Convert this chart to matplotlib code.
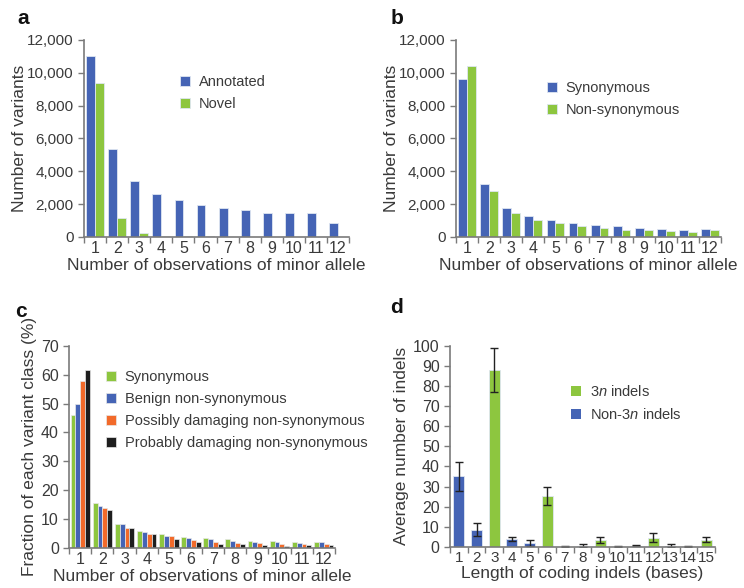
import numpy as np
import matplotlib
matplotlib.use("Agg")
import matplotlib.pyplot as plt

plt.rcParams['font.family'] = ['Liberation Sans', 'DejaVu Sans']
plt.rcParams['mathtext.fontset'] = 'custom'
plt.rcParams['mathtext.it'] = 'Liberation Sans:italic'
plt.rcParams['mathtext.rm'] = 'Liberation Sans'

BLUE = '#4564b5'
GREEN = '#8dc63f'
ORANGE = '#f26a2a'
BLACK = '#1e1e1e'
TXT = '#3a3a3a'
AX = '#7a7a7a'

# panel a
obs = np.arange(1, 13)
annotated = [11050, 5350, 3400, 2600, 2250, 1950, 1750, 1620, 1480, 1480, 1440, 850]
novel = [9400, 1130, 230, 80, 50, 50, 0, 0, 0, 0, 0, 0]

# panel b
synonymous = [9600, 3250, 1750, 1270, 1050, 850, 750, 640, 560, 510, 450, 500]
nonsynonymous = [10400, 2800, 1480, 1050, 850, 640, 560, 450, 410, 350, 300, 420]

# panel c (%)
c_syn = [46, 15.5, 8.2, 6.0, 5.0, 3.8, 3.5, 3.2, 2.6, 2.6, 2.2, 2.2]
c_benign = [50, 14.5, 8.2, 5.7, 4.3, 3.6, 3.2, 2.6, 2.2, 2.2, 1.9, 2.2]
c_possibly = [57.8, 14.0, 6.8, 4.7, 4.0, 2.8, 2.2, 1.8, 1.6, 1.5, 1.5, 1.5]
c_probably = [61.5, 13.2, 6.9, 5.0, 3.2, 2.2, 1.4, 1.4, 1.1, 0.8, 1.1, 1.1]

# panel d
lengths = np.arange(1, 16)
indels = [35, 8.5, 88, 4, 2, 25.5, 0.15, 0.5, 3.5, 0.15, 0.5, 4.5, 0.5, 0.15, 3.5]
err_lo = [7, 3, 11, 1, 1.5, 4.5, 0.15, 0.5, 1.5, 0.15, 0.3, 2, 0.5, 0.15, 1]
err_hi = [7, 3.5, 11, 1, 1.2, 4.5, 0.15, 0.7, 1.5, 0.15, 0.3, 2.5, 0.7, 0.15, 1.5]


def style(ax, n):
    for s in ['top', 'right']:
        ax.spines[s].set_visible(False)
    for s in ['left', 'bottom']:
        ax.spines[s].set_color(AX)
        ax.spines[s].set_linewidth(1.2)
    ax.set_xlim(0.5, n + 0.5)
    ax.set_xticks(np.arange(1, n + 1))
    ax.set_xticks(np.arange(0.5, n + 1), minor=True)
    ax.tick_params(axis='x', which='major', length=0, pad=3, labelsize=11.5, labelcolor=TXT)
    ax.tick_params(axis='x', which='minor', length=4, color=AX, width=1)
    ax.tick_params(axis='y', length=4, color=AX, width=1, labelsize=11.5, labelcolor=TXT)


def legend(ax, loc):
    leg = ax.legend(loc='upper left', bbox_to_anchor=loc, frameon=False, fontsize=10.5,
                    handlelength=0.7, handleheight=0.7, handletextpad=0.6, labelspacing=0.55,
                    borderaxespad=0)
    for t in leg.get_texts():
        t.set_color(TXT)


fig = plt.figure(figsize=(7.44, 5.88), dpi=100)
axa = fig.add_axes([0.113, 0.597, 0.356, 0.335])
axb = fig.add_axes([0.613, 0.597, 0.356, 0.335])
axc = fig.add_axes([0.093, 0.068, 0.357, 0.344])
axd = fig.add_axes([0.605, 0.070, 0.356, 0.342])

w = 0.4
ek = dict(edgecolor='#dfe6f2', linewidth=0.6)
axa.bar(obs - w / 2, annotated, w, color=BLUE, label='Annotated', **ek)
axa.bar(obs + w / 2, novel, w, color=GREEN, label='Novel', **ek)
axb.bar(obs - w / 2, synonymous, w, color=BLUE, label='Synonymous', **ek)
axb.bar(obs + w / 2, nonsynonymous, w, color=GREEN, label='Non-synonymous', **ek)
for ax in (axa, axb):
    style(ax, 12)
    ax.tick_params(axis='y', labelsize=11)
    ax.set_ylim(0, 12000)
    ax.set_yticks(np.arange(0, 12001, 2000))
    ax.set_yticklabels([f'{v:,}' for v in range(0, 12001, 2000)])
    ax.set_ylabel('Number of variants', fontsize=12.5, color=TXT, labelpad=0)
    ax.set_xlabel('Number of observations of minor allele', fontsize=12.5, color=TXT, labelpad=1)
legend(axa, (0.34, 0.85))
legend(axb, (0.32, 0.82))

wc = 0.22
series_c = [(c_syn, GREEN, 'Synonymous'), (c_benign, BLUE, 'Benign non-synonymous'),
            (c_possibly, ORANGE, 'Possibly damaging non-synonymous'),
            (c_probably, BLACK, 'Probably damaging non-synonymous')]
for i, (vals, col, lab) in enumerate(series_c):
    axc.bar(obs + (i - 1.5) * wc, vals, wc, color=col, label=lab, edgecolor='#e8e8e8', linewidth=0.5)
style(axc, 12)
axc.set_ylim(0, 70)
axc.set_yticks(np.arange(0, 71, 10))
axc.set_ylabel('Fraction of each variant class (%)', fontsize=12.5, color=TXT, labelpad=3)
axc.set_xlabel('Number of observations of minor allele', fontsize=12.5, color=TXT, labelpad=1)
legend(axc, (0.115, 0.91))

cols = [GREEN if l % 3 == 0 else BLUE for l in lengths]
axd.bar(lengths, indels, 0.62, color=cols, edgecolor='#dfe6f2', linewidth=0.6,
        yerr=[err_lo, err_hi], error_kw=dict(ecolor='#222222', elinewidth=1, capsize=3, capthick=1))
axd.bar([0], [0], color=GREEN, label='3$\\it{n}$ indels')
axd.bar([0], [0], color=BLUE, label='Non-3$\\it{n}$ indels')
style(axd, 15)
axd.tick_params(axis='x', which='major', labelsize=11)
axd.set_ylim(0, 100)
axd.set_yticks(np.arange(0, 101, 10))
axd.set_ylabel('Average number of indels', fontsize=12.5, color=TXT, labelpad=3)
axd.set_xlabel('Length of coding indels (bases)', fontsize=12.5, color=TXT, labelpad=1)
legend(axd, (0.435, 0.84))

for x, y, s in [(0.024, 0.985, 'a'), (0.525, 0.985, 'b'), (0.020, 0.487, 'c'), (0.524, 0.494, 'd')]:
    fig.text(x, y, s, fontsize=15, fontweight='bold', va='top', color='#111111')

fig.savefig('out.png', dpi=100)
